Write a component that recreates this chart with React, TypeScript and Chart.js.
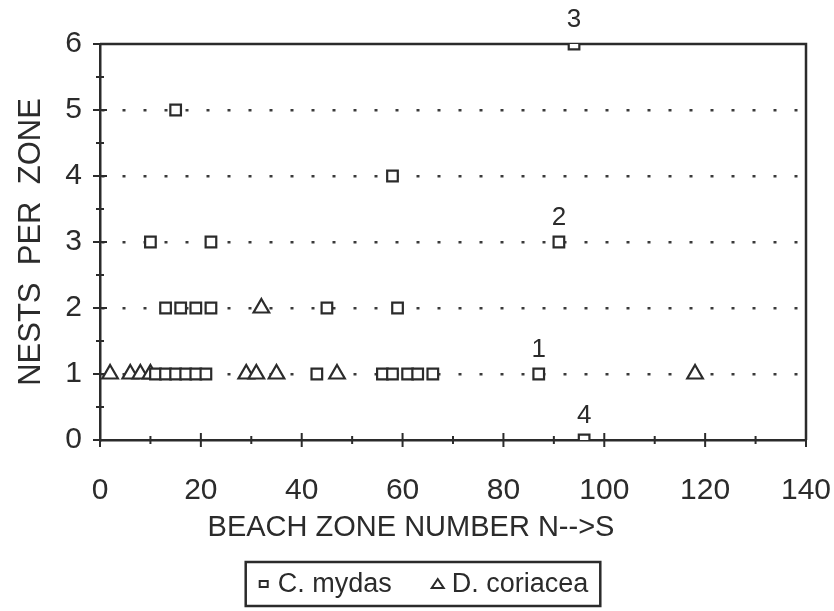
import React, { useEffect, useRef } from 'react';
import { Chart, registerables } from 'chart.js';

Chart.register(...registerables);

// ---- data ----
const seriesNames = ['C. mydas', 'D. coriacea'];

const mydasZone = [94, 15, 58, 10, 22, 91, 13, 16, 19, 22, 45, 59, 11, 13, 15, 17, 19, 21, 43, 56, 58, 61, 63, 66, 87, 96];
const mydasNests = [6, 5, 4, 3, 3, 3, 2, 2, 2, 2, 2, 2, 1, 1, 1, 1, 1, 1, 1, 1, 1, 1, 1, 1, 1, 0];

const coriaceaZone = [2, 6, 8, 10, 29, 31, 35, 47, 118, 32];
const coriaceaNests = [1, 1, 1, 1, 1, 1, 1, 1, 1, 2];

const noteText = ['1', '2', '3', '4'];
const noteZone = [87, 91, 94, 96];
const noteNests = [1, 3, 6, 0];

const xLabelValues = [0, 20, 40, 60, 80, 100, 120, 140];
const yLabelValues = [0, 1, 2, 3, 4, 5, 6];
const xTitle = 'BEACH ZONE NUMBER N-->S';
const yTitle = 'NESTS  PER  ZONE';

const INK = '#2b2b2b';
const FONT = '"Liberation Sans", Arial, Helvetica, sans-serif';

const toPoints = (xs: number[], ys: number[]) => xs.map((x, i) => ({ x, y: ys[i] }));

const framePlugin = {
  id: 'frameAndTicks',
  beforeDatasetsDraw(chart: any) {
    const { ctx, chartArea: a, scales } = chart;
    const xs = scales.x;
    const ys = scales.y;
    ctx.save();
    ctx.strokeStyle = INK;
    ctx.lineWidth = 2.5;
    ctx.beginPath();
    ctx.moveTo(a.left, a.top);
    ctx.lineTo(a.right, a.top);
    ctx.lineTo(a.right, a.bottom);
    ctx.stroke();
    ctx.lineWidth = 2;
    // x ticks crossing the axis
    for (let v = 0; v <= 140; v += 10) {
      const px = xs.getPixelForValue(v);
      const h = v % 20 === 0 ? 7 : 4;
      ctx.beginPath();
      ctx.moveTo(px, a.bottom - h);
      ctx.lineTo(px, a.bottom + h);
      ctx.stroke();
    }
    // y ticks crossing the axis
    for (let v = 0; v <= 6; v += 0.5) {
      const py = ys.getPixelForValue(v);
      const w = Number.isInteger(v) ? 7 : 4;
      ctx.beginPath();
      ctx.moveTo(a.left - w, py);
      ctx.lineTo(a.left + w, py);
      ctx.stroke();
    }
    ctx.restore();
  },
  afterDraw(chart: any) {
    const { ctx, scales } = chart;
    const xs = scales.x;
    const ys = scales.y;
    ctx.save();
    ctx.fillStyle = INK;
    ctx.textAlign = 'center';
    ctx.textBaseline = 'middle';
    // point notes
    ctx.font = `26px ${FONT}`;
    noteText.forEach((t, i) => {
      ctx.fillText(t, xs.getPixelForValue(noteZone[i]), ys.getPixelForValue(noteNests[i]) - 24);
    });
    // x axis title
    ctx.font = `29px ${FONT}`;
    ctx.fillText(xTitle, 411, 528);

    // legend
    ctx.font = `27px ${FONT}`;
    const w1 = ctx.measureText(seriesNames[0]).width;
    const w2 = ctx.measureText(seriesNames[1]).width;
    const mk = 12;
    const gapIn = 8;
    const gapBetween = 40;
    const pad = 12;
    const total = mk + gapIn + w1 + gapBetween + mk + gapIn + w2;
    const cx = 423;
    const cy = 584;
    const boxL = cx - total / 2 - pad;
    const boxR = cx + total / 2 + pad;
    ctx.lineWidth = 2.5;
    ctx.strokeStyle = INK;
    ctx.strokeRect(boxL, cy - 22, boxR - boxL, 44);
    let x = cx - total / 2;
    // square marker
    ctx.lineWidth = 2;
    ctx.fillStyle = '#fff';
    ctx.fillRect(x + 2, cy - 3, 8, 6);
    ctx.strokeRect(x + 2, cy - 3, 8, 6);
    x += mk + gapIn;
    ctx.fillStyle = INK;
    ctx.textAlign = 'left';
    ctx.fillText(seriesNames[0], x, cy + 1);
    x += w1 + gapBetween;
    // triangle marker
    ctx.beginPath();
    ctx.moveTo(x + mk / 2, cy - 5);
    ctx.lineTo(x + mk, cy + 4);
    ctx.lineTo(x, cy + 4);
    ctx.closePath();
    ctx.fillStyle = '#fff';
    ctx.fill();
    ctx.stroke();
    x += mk + gapIn;
    ctx.fillStyle = INK;
    ctx.fillText(seriesNames[1], x, cy + 1);
    ctx.restore();
  },
};

export default function App() {
  const ref = useRef<HTMLCanvasElement | null>(null);
  useEffect(() => {
    if (!ref.current) return;
    const chart = new Chart(ref.current, {
      type: 'scatter',
      data: {
        datasets: [
          {
            label: seriesNames[0],
            data: toPoints(mydasZone, mydasNests),
            pointStyle: 'rect',
            pointRadius: 7.5,
            pointBackgroundColor: '#ffffff',
            pointBorderColor: INK,
            pointBorderWidth: 2.2,
          },
          {
            label: seriesNames[1],
            data: toPoints(coriaceaZone, coriaceaNests),
            pointStyle: 'triangle',
            pointRadius: 9,
            pointBackgroundColor: '#ffffff',
            pointBorderColor: INK,
            pointBorderWidth: 2.2,
          },
        ],
      },
      options: {
        responsive: false,
        animation: false,
        layout: { padding: { top: 44, right: 28, bottom: 0, left: 0 } },
        plugins: { legend: { display: false }, tooltip: { enabled: false } },
        scales: {
          x: {
            type: 'linear',
            min: 0,
            max: 140,
            afterFit: (s: any) => {
              s.height = 171;
            },
            ticks: {
              stepSize: 10,
              autoSkip: false,
              maxRotation: 0,
              padding: 1,
              color: INK,
              font: { family: FONT, size: 30 },
              callback: (v: any) => (xLabelValues.includes(Number(v)) ? String(v) : ''),
            },
            grid: { display: false, drawTicks: true, tickLength: 32 },
            border: { display: true, color: INK, width: 2.5 },
          },
          y: {
            type: 'linear',
            min: 0,
            max: 6,
            afterFit: (s: any) => {
              s.width = 100;
            },
            ticks: {
              stepSize: 0.5,
              autoSkip: false,
              padding: 18,
              color: INK,
              font: { family: FONT, size: 30 },
              callback: (v: any) => (yLabelValues.includes(Number(v)) ? String(v) : ''),
            },
            grid: {
              display: true,
              drawTicks: false,
              lineWidth: 2.5,
              color: (c: any) => {
                const v = c.tick ? c.tick.value : -1;
                return Number.isInteger(v) && v > 0 && v < 6 ? '#3a3a3a' : 'rgba(0,0,0,0)';
              },
            },
            border: { display: true, color: INK, width: 2.5, dash: [3, 18] },
            title: {
              display: true,
              text: yTitle,
              color: INK,
              font: { family: FONT, size: 31 },
              padding: { top: 13, bottom: 0 },
            },
          },
        },
      },
      plugins: [framePlugin],
    } as any);
    return () => chart.destroy();
  }, []);
  return (
    <div style={{ position: 'absolute', left: 0, top: 0, width: 834, height: 611, background: '#fff' }}>
      <canvas ref={ref} width={834} height={611} />
    </div>
  );
}
